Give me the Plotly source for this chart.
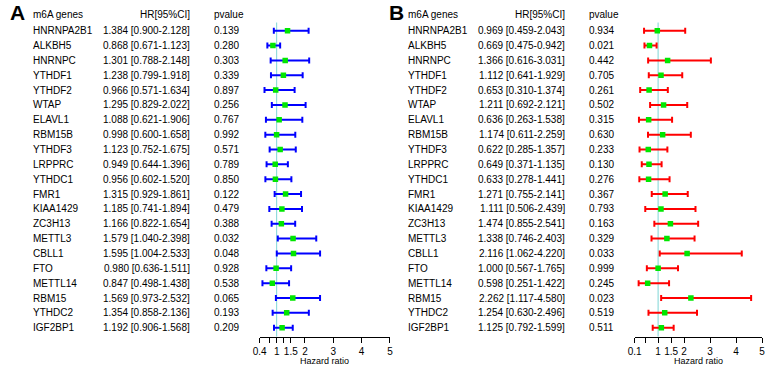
import plotly.graph_objects as go

genes = ["HNRNPA2B1", "ALKBH5", "HNRNPC", "YTHDF1", "YTHDF2", "WTAP", "ELAVL1",
         "RBM15B", "YTHDF3", "LRPPRC", "YTHDC1", "FMR1", "KIAA1429", "ZC3H13",
         "METTL3", "CBLL1", "FTO", "METTL14", "RBM15", "YTHDC2", "IGF2BP1"]

# Panel A
hr_a = [1.384, 0.868, 1.301, 1.238, 0.966, 1.295, 1.088, 0.998, 1.123, 0.949, 0.956,
        1.315, 1.185, 1.166, 1.579, 1.595, 0.980, 0.847, 1.569, 1.354, 1.192]
lo_a = [0.900, 0.671, 0.788, 0.799, 0.571, 0.829, 0.621, 0.600, 0.752, 0.644, 0.602,
        0.929, 0.741, 0.822, 1.040, 1.004, 0.636, 0.498, 0.973, 0.858, 0.906]
hi_a = [2.128, 1.123, 2.148, 1.918, 1.634, 2.022, 1.906, 1.658, 1.675, 1.396, 1.520,
        1.861, 1.894, 1.654, 2.398, 2.533, 1.511, 1.438, 2.532, 2.136, 1.568]
p_a = ["0.139", "0.280", "0.303", "0.339", "0.897", "0.256", "0.767", "0.992", "0.571",
       "0.789", "0.850", "0.122", "0.479", "0.388", "0.032", "0.048", "0.928", "0.538",
       "0.065", "0.193", "0.209"]

# Panel B
hr_b = [0.969, 0.669, 1.366, 1.112, 0.653, 1.211, 0.636, 1.174, 0.622, 0.649, 0.633,
        1.271, 1.111, 1.474, 1.338, 2.116, 1.000, 0.598, 2.262, 1.254, 1.125]
lo_b = [0.459, 0.475, 0.616, 0.641, 0.310, 0.692, 0.263, 0.611, 0.285, 0.371, 0.278,
        0.755, 0.506, 0.855, 0.746, 1.062, 0.567, 0.251, 1.117, 0.630, 0.792]
hi_b = [2.043, 0.942, 3.031, 1.929, 1.374, 2.121, 1.538, 2.259, 1.357, 1.135, 1.441,
        2.141, 2.439, 2.541, 2.403, 4.220, 1.765, 1.422, 4.580, 2.496, 1.599]
p_b = ["0.934", "0.021", "0.442", "0.705", "0.261", "0.502", "0.315", "0.630", "0.233",
       "0.130", "0.276", "0.367", "0.793", "0.163", "0.329", "0.033", "0.999", "0.245",
       "0.023", "0.519", "0.511"]

tickvals_a = [0.4, 0.75, 1, 1.25, 1.5, 2, 3, 4, 5]
ticktext_a = ["0.4", "", "1", "", "1.5", "2", "3", "4", "5"]
tickvals_b = [0.1, 0.5, 1, 1.5, 2, 3, 4, 5]
ticktext_b = ["0.1", "", "1", "1.5", "2", "3", "4", "5"]

W, H = 768, 367
FONT = "Liberation Sans, Arial, sans-serif"
rows = list(range(1, len(genes) + 1))

fig = go.Figure()


def add_panel(hr, lo, hi, color, xaxis):
    fig.add_trace(go.Scatter(
        x=hr, y=rows, mode="markers", xaxis=xaxis, yaxis="y",
        marker=dict(symbol="square", size=5.5, color="#00e600", line=dict(width=0)),
        error_x=dict(type="data", symmetric=False,
                     array=[h - m for h, m in zip(hi, hr)],
                     arrayminus=[m - l for m, l in zip(hr, lo)],
                     color=color, thickness=2, width=3),
        showlegend=False, hoverinfo="skip"))


add_panel(hr_a, lo_a, hi_a, "#0000ff", "x")
add_panel(hr_b, lo_b, hi_b, "#ff0000", "x2")

y_bottom_px = 336.7
row1_px, row_sp = 30.7, 14.85
y_top_val = 1 - row1_px / row_sp
y_bot_val = 1 + (y_bottom_px - row1_px) / row_sp

axis_common = dict(showline=True, linecolor="black", linewidth=1, ticks="outside",
                   ticklen=5, tickwidth=1, tickcolor="black", showgrid=False,
                   zeroline=False, tickfont=dict(size=10, family=FONT, color="black"),
                   tickmode="array", anchor="y", fixedrange=True)

fig.update_layout(
    width=W, height=H, margin=dict(l=0, r=0, t=0, b=0),
    paper_bgcolor="white", plot_bgcolor="white",
    font=dict(family=FONT, size=10, color="black"),
    xaxis=dict(domain=[256 / W, 388 / W], range=[0.4, 5],
               tickvals=tickvals_a, ticktext=ticktext_a, **axis_common),
    xaxis2=dict(domain=[636 / W, 765 / W], range=[0.1, 5],
                tickvals=tickvals_b, ticktext=ticktext_b, **axis_common),
    yaxis=dict(domain=[1 - y_bottom_px / H, 1], range=[y_bot_val, y_top_val],
               visible=False, fixedrange=True),
)

# reference lines at HR = 1
for xr in ["x", "x2"]:
    fig.add_shape(type="line", xref=xr, yref="y", x0=1, x1=1, y0=0.45, y1=y_bot_val,
                  line=dict(color="#7fd6d6", width=1), layer="below")

ann = []


def txt(x_px, y, text, anchor, size=10):
    ann.append(dict(x=x_px / W, y=y, xref="paper", yref="y", text=text,
                    showarrow=False, xanchor=anchor, yanchor="middle",
                    font=dict(size=size, family=FONT, color="black")))


hdr = -0.06
for (gx, hrx, px, label_x, hr, lo, hi, pv, lab, axc) in [
        (24, 187, 207.5, 1, hr_a, lo_a, hi_a, p_a, "A", 322),
        (404.5, 567.5, 588, 385, hr_b, lo_b, hi_b, p_b, "B", 700.5)]:
    txt(gx, hdr, "m6A genes", "left")
    txt(hrx, hdr, "HR[95%CI]", "right")
    txt(px, hdr, "pvalue", "left")
    for i, g in enumerate(genes):
        txt(gx, rows[i], g, "left")
        txt(hrx, rows[i], "%.3f [%.3f-%.3f]" % (hr[i], lo[i], hi[i]), "right")
        txt(px, rows[i], pv[i], "left")
    ann.append(dict(x=label_x / W, y=1 - 12 / H, xref="paper", yref="paper",
                    text="<b>%s</b>" % lab, showarrow=False, xanchor="left",
                    yanchor="middle", font=dict(size=21, family=FONT, color="black")))
    ann.append(dict(x=axc / W, y=1 - 361 / H, xref="paper", yref="paper",
                    text="Hazard ratio", showarrow=False, xanchor="center",
                    yanchor="middle", font=dict(size=9, family=FONT, color="black")))

fig.update_layout(annotations=ann)
fig.write_html("out.html", config={"displayModeBar": False},
               post_script="document.body.style.margin='0';")
